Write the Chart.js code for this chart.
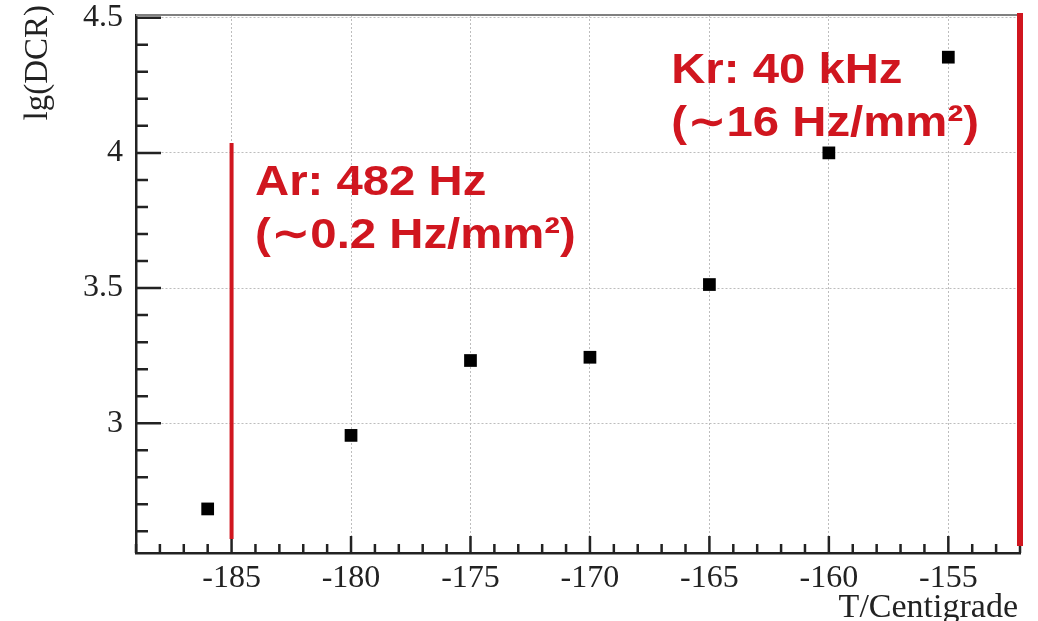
<!DOCTYPE html>
<html>
<head>
<meta charset="utf-8">
<script src="https://cdn.jsdelivr.net/npm/chart.js@4/dist/chart.umd.min.js"></script>
<style>
  html, body { margin: 0; padding: 0; background: #fff; }
  #wrap { width: 1038px; height: 621px; }
</style>
</head>
<body>
<div id="wrap"><canvas id="dcrChart" width="1038" height="621"></canvas></div>
<script>
// 溫度 (°C) 與 lg(DCR)
const temps = [-186, -180, -175, -170, -165, -160, -155];
const lgDcr = [2.683, 2.955, 3.232, 3.244, 3.513, 4.0, 4.354];

// 主刻度
const xTicks = [-185, -180, -175, -170, -165, -160, -155];
const yTicks = [3, 3.5, 4, 4.5];

// 紅色標示線 (Ar / Kr 溫度)
const arLineX = [-185, -185];
const arLineY = [2.572, 4.037];
const krLineX = [-152, -152];
const krLineY = [2.546, 4.517];

// 紅字標註
const notes = [
  { x: -184.02, y: 3.844, lines: ["Ar: 482 Hz", "(∼0.2 Hz/mm²)"] },
  { x: -166.6, y: 4.258, lines: ["Kr: 40 kHz", "(∼16 Hz/mm²)"] }
];

const red = "#d0161f";
const serif = "'Liberation Serif', 'Times New Roman', serif";

const toPoints = (xs, ys) => xs.map((x, i) => ({ x: x, y: ys[i] }));

// 不讓刻度文字撐開繪圖區
const noOverhang = s => {
  s.paddingTop = 0;
  s.paddingBottom = 0;
  s.paddingLeft = 0;
  s.paddingRight = 0;
};

// 內向刻度、上框線、座標軸標題
const frameAndTicks = {
  id: "frameAndTicks",
  beforeDatasetsDraw(chart) {
    const { ctx, chartArea: a, scales: { x, y } } = chart;
    ctx.save();
    // top frame
    ctx.strokeStyle = "#808080";
    ctx.lineWidth = 2;
    ctx.beginPath();
    ctx.moveTo(a.left, a.top);
    ctx.lineTo(a.right, a.top);
    ctx.stroke();

    ctx.strokeStyle = "#222";
    ctx.lineWidth = 2.5;
    ctx.beginPath();
    for (let v = Math.ceil(x.min); v <= x.max; v++) {
      const px = x.getPixelForValue(v);
      const len = v % 5 === 0 ? 17 : 9;
      ctx.moveTo(px, a.bottom);
      ctx.lineTo(px, a.bottom - len);
    }
    for (let k = Math.ceil(y.min * 10); k <= Math.floor(y.max * 10); k++) {
      const py = y.getPixelForValue(k / 10);
      const len = k % 5 === 0 ? 25 : 12;
      ctx.moveTo(a.left, py);
      ctx.lineTo(a.left + len, py);
    }
    ctx.stroke();
    ctx.restore();
  },
  afterDraw(chart) {
    const { ctx, chartArea: a } = chart;
    ctx.save();
    ctx.fillStyle = "#222";
    ctx.font = "34px " + serif;
    ctx.textBaseline = "alphabetic";
    ctx.textAlign = "right";
    ctx.fillText("T/Centigrade", a.right - 2, 617);
    ctx.font = "33px " + serif;
    ctx.translate(47, 5);
    ctx.rotate(-Math.PI / 2);
    ctx.fillText("lg(DCR)", 0, 0);
    ctx.restore();
  }
};

// 紅字標註
const noteText = {
  id: "noteText",
  afterDatasetsDraw(chart) {
    const { ctx, scales: { x, y } } = chart;
    ctx.save();
    ctx.fillStyle = red;
    ctx.font = "bold 43px 'Liberation Sans', Arial, 'DejaVu Sans', sans-serif";
    ctx.textAlign = "left";
    ctx.textBaseline = "alphabetic";
    notes.forEach(n => {
      ctx.save();
      ctx.translate(x.getPixelForValue(n.x), y.getPixelForValue(n.y));
      ctx.scale(1.1, 1);
      n.lines.forEach((t, i) => ctx.fillText(t, 0, i * 53));
      ctx.restore();
    });
    ctx.restore();
  }
};

new Chart(document.getElementById("dcrChart"), {
  type: "scatter",
  data: {
    datasets: [
      {
        data: toPoints(temps, lgDcr),
        pointStyle: "rect",
        pointRadius: 9,
        pointHoverRadius: 9,
        backgroundColor: "#000",
        borderWidth: 0
      },
      {
        type: "line",
        data: toPoints(arLineX, arLineY),
        borderColor: red,
        borderWidth: 4,
        pointRadius: 0,
        fill: false
      },
      {
        type: "line",
        data: toPoints(krLineX, krLineY),
        borderColor: red,
        borderWidth: 6,
        pointRadius: 0,
        fill: false,
        clip: false
      }
    ]
  },
  options: {
    responsive: false,
    animation: false,
    events: [],
    layout: { padding: { top: 15, right: 18, left: 0, bottom: 0 } },
    plugins: { legend: { display: false }, tooltip: { enabled: false } },
    scales: {
      x: {
        type: "linear",
        min: -189,
        max: -152,
        afterBuildTicks: s => { s.ticks = xTicks.map(v => ({ value: v })); },
        afterFit: s => { s.height = 68; noOverhang(s); },
        ticks: {
          padding: 6,
          color: "#222",
          font: { family: serif, size: 32 },
          callback: v => String(v)
        },
        grid: { color: "#bdbdbd", lineWidth: 1, drawTicks: false },
        border: { display: true, color: "#222", width: 2.5, dash: [2, 2] }
      },
      y: {
        min: 2.52,
        max: 4.51,
        afterBuildTicks: s => { s.ticks = yTicks.map(v => ({ value: v })); },
        afterFit: s => { s.width = 136; noOverhang(s); },
        ticks: {
          padding: 13,
          color: "#222",
          font: { family: serif, size: 32 },
          callback: v => String(v)
        },
        grid: { color: "#bdbdbd", lineWidth: 1, drawTicks: false },
        border: { display: true, color: "#222", width: 2.5, dash: [2, 2] }
      }
    }
  },
  plugins: [frameAndTicks, noteText]
});
</script>
</body>
</html>
